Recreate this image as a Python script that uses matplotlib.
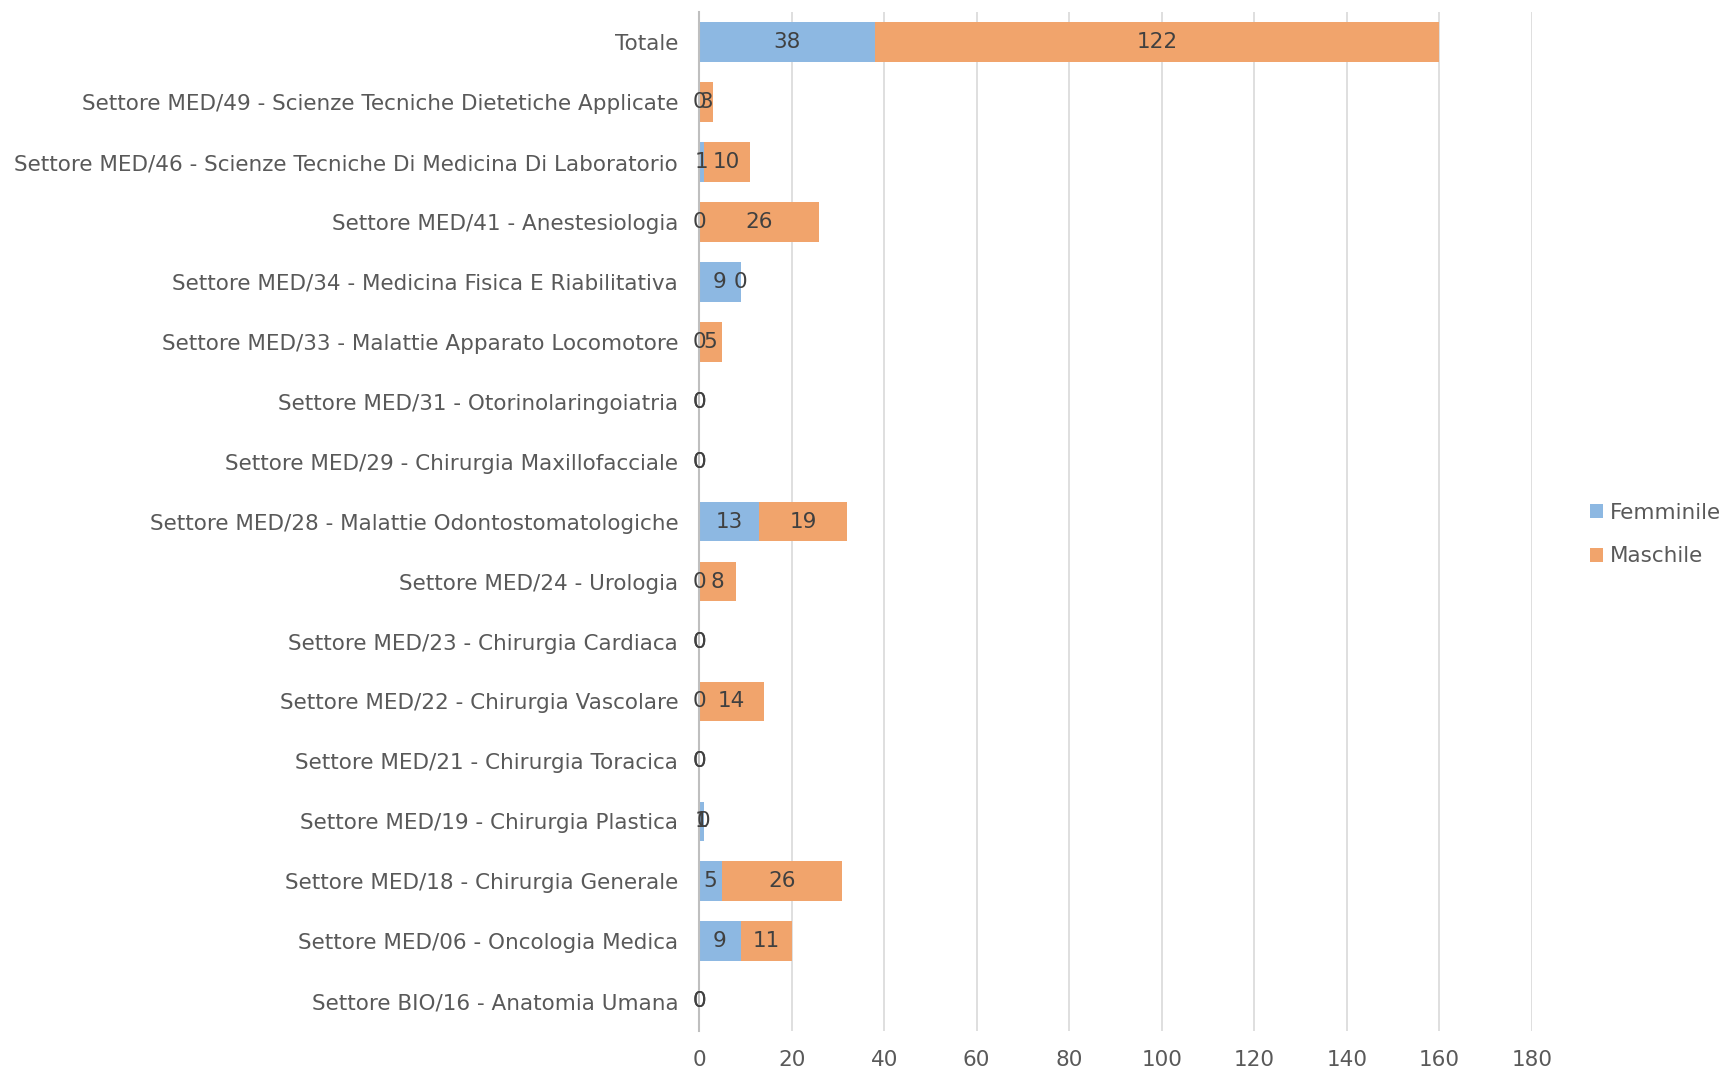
import matplotlib
matplotlib.use("Agg")
import matplotlib.pyplot as plt
import numpy as np

# categories, top to bottom as in the chart
categories = [
    "Totale",
    "Settore MED/49 - Scienze Tecniche Dietetiche Applicate",
    "Settore MED/46 - Scienze Tecniche Di Medicina Di Laboratorio",
    "Settore MED/41 - Anestesiologia",
    "Settore MED/34 - Medicina Fisica E Riabilitativa",
    "Settore MED/33 - Malattie Apparato Locomotore",
    "Settore MED/31 - Otorinolaringoiatria",
    "Settore MED/29 - Chirurgia Maxillofacciale",
    "Settore MED/28 - Malattie Odontostomatologiche",
    "Settore MED/24 - Urologia",
    "Settore MED/23 - Chirurgia Cardiaca",
    "Settore MED/22 - Chirurgia Vascolare",
    "Settore MED/21 - Chirurgia Toracica",
    "Settore MED/19 - Chirurgia Plastica",
    "Settore MED/18 - Chirurgia Generale",
    "Settore MED/06 - Oncologia Medica",
    "Settore BIO/16 - Anatomia Umana",
]
femminile = [38, 0, 1, 0, 9, 0, 0, 0, 13, 0, 0, 0, 0, 1, 5, 9, 0]
maschile = [122, 3, 10, 26, 0, 5, 0, 0, 19, 8, 0, 14, 0, 0, 26, 11, 0]
xticks = [0, 20, 40, 60, 80, 100, 120, 140, 160, 180]

blue = "#8DB8E2"
orange = "#F1A46C"
grey_txt = "#595959"
lbl_txt = "#404040"
plt.rcParams['font.family'] = ['DejaVu Sans']

fig = plt.figure(figsize=(17.26, 10.69), dpi=100)
ax = fig.add_axes([0.405, 0.0355, 0.4826, 0.953])

y = np.arange(len(categories))
f = np.array(femminile)
m = np.array(maschile)
h = 0.66
bf = ax.barh(y, f, height=h, color=blue, label="Femminile")
bm = ax.barh(y, m, left=f, height=h, color=orange, label="Maschile")

for i in range(len(categories)):
    ax.text(f[i] / 2, y[i], str(f[i]), ha="center", va="center",
            fontsize=15.5, color=lbl_txt)
    ax.text(f[i] + m[i] / 2, y[i], str(m[i]), ha="center", va="center",
            fontsize=15.5, color=lbl_txt)

ax.set_ylim(len(categories) - 0.5, -0.5)
ax.set_xlim(0, 180)
ax.set_xticks(xticks)
ax.set_yticks(y)
ax.set_yticklabels(categories)
ax.tick_params(axis="y", length=0, pad=15, labelsize=15.5, labelcolor=grey_txt)
ax.tick_params(axis="x", length=0, pad=14, labelsize=15.5, labelcolor=grey_txt)
ax.grid(axis="x", color="#D9D9D9", linewidth=1.2)
ax.set_axisbelow(True)
for s in ["top", "right", "bottom"]:
    ax.spines[s].set_visible(False)
ax.spines["left"].set_color("#BFBFBF")
ax.spines["left"].set_linewidth(1.5)

fig.legend(handles=[bf, bm], loc="center left", bbox_to_anchor=(0.91, 0.5),
           frameon=False, fontsize=15.5, handlelength=0.6, handleheight=0.6,
           handletextpad=0.3, labelspacing=1.1, labelcolor=grey_txt)

fig.savefig("out.png", dpi=100)
